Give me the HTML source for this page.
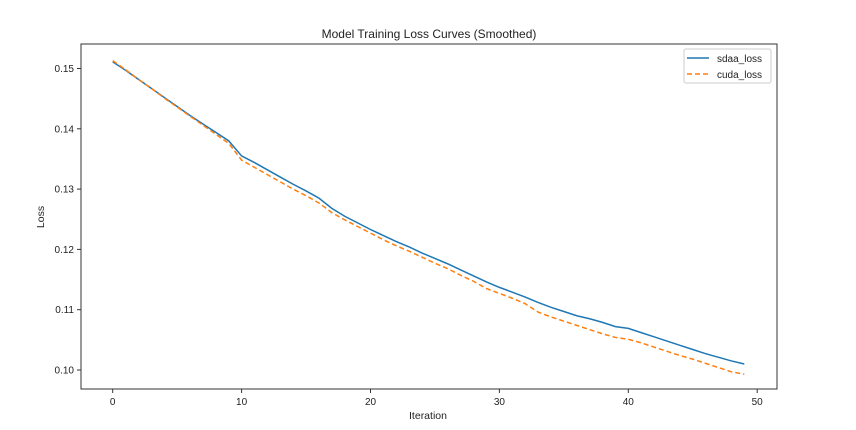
<!DOCTYPE html>
<html><head><meta charset="utf-8"><style>
body{margin:0;background:#fff;}
svg{display:block;font-family:"Liberation Sans","DejaVu Sans",sans-serif;}
</style></head><body>
<svg id="chart" width="856" height="430">
<text x="429" y="38" text-anchor="middle" font-size="12" fill="#222">Model Training Loss Curves (Smoothed)</text>
<text x="428" y="419" text-anchor="middle" font-size="10.5" fill="#222">Iteration</text>
<text x="44" y="217" text-anchor="middle" font-size="10.5" fill="#222" transform="rotate(-90 44 217)">Loss</text>
<g id="ticks"></g>
<g id="lines"></g>
<rect x="81" y="44" width="696" height="345" fill="none" stroke="#333" stroke-width="1"/>
<g>
<rect x="684" y="49" width="87" height="34" fill="#fff" stroke="#ccc" rx="2"/>
<line x1="687" y1="58" x2="709" y2="58" stroke="#1f77b4" stroke-width="1.5"/>
<text x="717" y="62" font-size="10" fill="#222">sdaa_loss</text>
<line x1="687" y1="74" x2="709" y2="74" stroke="#ff7f0e" stroke-width="1.5" stroke-dasharray="5,3"/>
<text x="717" y="78" font-size="10" fill="#222">cuda_loss</text>
</g>
</svg>
<script>
const iterations=[0,1,2,3,4,5,6,7,8,9,10,11,12,13,14,15,16,17,18,19,20,21,22,23,24,25,26,27,28,29,30,31,32,33,34,35,36,37,38,39,40,41,42,43,44,45,46,47,48,49];
const sdaaLoss=[.1511,.1497,.1482,.1467,.1452,.1437,.1422,.1408,.1394,.1380,.1355,.1344,.1332,.1320,.1308,.1297,.1285,.1268,.1255,.1244,.1233,.1223,.1213,.1204,.1194,.1185,.1176,.1166,.1156,.1146,.1137,.1129,.1121,.1112,.1104,.1097,.1090,.1085,.1079,.1072,.1069,.1062,.1055,.1048,.1041,.1034,.1027,.1021,.1015,.1010];
const cudaLoss=[.1513,.1498,.1482,.1467,.1451,.1436,.1421,.1406,.1391,.1376,.1348,.1336,.1324,.1312,.1300,.1289,.1277,.1261,.1249,.1238,.1227,.1216,.1206,.1197,.1187,.1177,.1168,.1157,.1147,.1135,.1127,.1119,.1110,.1096,.1088,.1081,.1074,.1067,.1060,.1054,.1051,.1045,.1038,.1031,.1024,.1018,.1011,.1004,.0997,.0993];
const xTicks=[0,10,20,30,40,50];
const yTicks=[0.10,0.11,0.12,0.13,0.14,0.15];
const NS="http://www.w3.org/2000/svg";
function sx(v){return 112.7+v*12.89;}
function sy(v){return 370-(v-0.10)*6030;}
const tg=document.getElementById('ticks');
xTicks.forEach(t=>{
  const l=document.createElementNS(NS,'line');
  l.setAttribute('x1',sx(t));l.setAttribute('x2',sx(t));l.setAttribute('y1',389);l.setAttribute('y2',393);
  l.setAttribute('stroke','#333');
  
  
  tg.appendChild(l);
  const tx=document.createElementNS(NS,'text');
  tx.setAttribute('x',sx(t));tx.setAttribute('y',405);tx.setAttribute('text-anchor','middle');
  tx.setAttribute('font-size','10');tx.setAttribute('fill','#222');tx.textContent=t;
  
  
  tg.appendChild(tx);
});
yTicks.forEach(t=>{
  const l=document.createElementNS(NS,'line');
  l.setAttribute('x1',77);l.setAttribute('x2',81);l.setAttribute('y1',sy(t));l.setAttribute('y2',sy(t));
  l.setAttribute('stroke','#333');
  
  
  tg.appendChild(l);
  const tx=document.createElementNS(NS,'text');
  tx.setAttribute('x',74);tx.setAttribute('y',sy(t)+3.5);tx.setAttribute('text-anchor','end');
  tx.setAttribute('font-size','10');tx.setAttribute('fill','#222');tx.textContent=t.toFixed(2);
  
  
  tg.appendChild(tx);
});
const lg=document.getElementById('lines');
function draw(vals,color,dash,name){
  const p=document.createElementNS(NS,'polyline');
  p.setAttribute('points',vals.map((v,i)=>sx(iterations[i])+','+sy(v)).join(' '));
  p.setAttribute('fill','none');p.setAttribute('stroke',color);p.setAttribute('stroke-width','1.5');
  if(dash)p.setAttribute('stroke-dasharray',dash);
  
  
  lg.appendChild(p);
}
draw(sdaaLoss,'#1f77b4',null,'sdaa-loss-line');
draw(cudaLoss,'#ff7f0e','5,3','cuda-loss-line');
</script>
</body></html>
